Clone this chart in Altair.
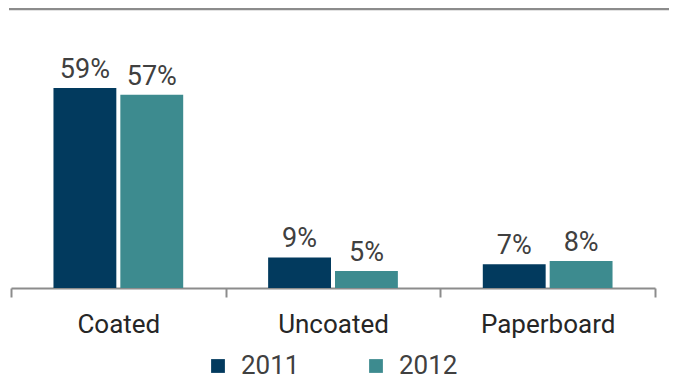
import altair as alt
import pandas as pd

categories = ["Coated", "Uncoated", "Paperboard"]
years = ["2011", "2012"]
values_2011 = [59, 9, 7]
values_2012 = [57, 5, 8]

rows = []
for i, c in enumerate(categories):
    rows.append({"cat": c, "year": "2011", "v": values_2011[i], "lbl": f"{values_2011[i]}%"})
    rows.append({"cat": c, "year": "2012", "v": values_2012[i], "lbl": f"{values_2012[i]}%"})
df = pd.DataFrame(rows)

FONT = "Roboto"
colors = ["#023A5E", "#3D8B8F"]

x = alt.X("cat:N", sort=categories, title=None,
          scale=alt.Scale(paddingInner=0, paddingOuter=0),
          axis=alt.Axis(labelAngle=0, labelFontSize=26, labelColor="#262626", labelFont=FONT,
                        labelPadding=14, domainColor="#8c8c8c", domainWidth=2,
                        tickColor="#8c8c8c", tickWidth=2, tickSize=9, tickBand="extent"))
xo = alt.XOffset("year:N", scale=alt.Scale(paddingInner=0.06, paddingOuter=0.635))
y = alt.Y("v:Q", scale=alt.Scale(domain=[0, 82.3]), axis=None)

base = alt.Chart(df)
bars = base.mark_bar().encode(
    x=x, xOffset=xo, y=y,
    color=alt.Color("year:N", scale=alt.Scale(domain=years, range=colors), title=None,
                    legend=alt.Legend(orient="none", direction="horizontal", legendX=194, legendY=344,
                                      symbolType="square", symbolSize=190, symbolStrokeWidth=0,
                                      labelFontSize=26, labelFont=FONT, labelColor="#404040",
                                      columnPadding=63, symbolOffset=0, labelOffset=10))
)
labels = base.mark_text(baseline="alphabetic", dy=-10, fontSize=27, font=FONT, color="#404040").encode(
    x=x, xOffset=xo, y=y, text="lbl:N"
)
topline = alt.Chart(pd.DataFrame({"a": [0]})).mark_rule(color="#8c8c8c", strokeWidth=2.5).encode(
    x=alt.value(-2), x2=alt.value(662), y=alt.value(0)
)

chart = alt.layer(bars, labels, topline).properties(
    width=644, height=279,
    autosize=alt.AutoSizeParams(type="none"),
    padding={"left": 3, "top": 1, "right": 14, "bottom": 93},
).configure_view(stroke=None)

chart.save("out.html", embed_options={"renderer": "svg", "actions": False})
